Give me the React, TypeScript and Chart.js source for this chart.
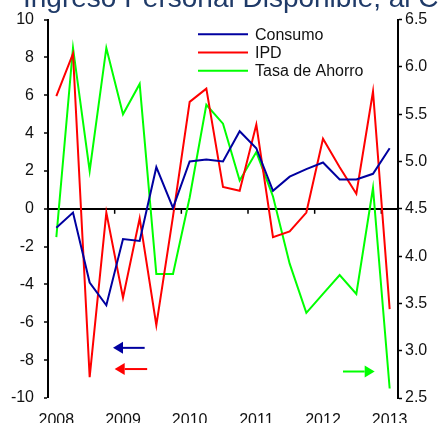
import React, { useEffect, useRef } from "react";
import { Chart, registerables } from "chart.js";

Chart.register(...registerables);

const titleText = "Ingreso Personal Disponible, al Consumo y Tasa de Ahorro";

const categories = [
  "2008T1", "2008T2", "2008T3", "2008T4",
  "2009T1", "2009T2", "2009T3", "2009T4",
  "2010T1", "2010T2", "2010T3", "2010T4",
  "2011T1", "2011T2", "2011T3", "2011T4",
  "2012T1", "2012T2", "2012T3", "2012T4",
  "2013T1",
];

const consumo = [-1.0, -0.2, -3.9, -5.1, -1.6, -1.7, 2.2, 0.05, 2.5, 2.6, 2.5, 4.1, 3.2, 0.95, 1.7, 2.1, 2.45, 1.55, 1.55, 1.85, 3.2];
const ipd = [5.95, 8.2, -8.9, -0.2, -4.7, -0.5, -6.15, -0.4, 5.65, 6.35, 1.15, 0.95, 4.45, -1.5, -1.2, -0.2, 3.7, 2.2, 0.8, 6.2, -5.3];
const ahorro = [4.2, 6.2, 4.9, 6.2, 5.5, 5.82, 3.81, 3.81, 4.62, 5.6, 5.4, 4.8, 5.1, 4.63, 3.92, 3.4, 3.6, 3.8, 3.6, 4.72, 2.6];

const seriesLabels = ["Consumo", "IPD", "Tasa de Ahorro"];
const seriesColors = ["#0000A0", "#FF0000", "#00FF00"];

// arrows indicating which axis each series belongs to (category index range, axis value)
const axisArrows = [
  { color: "#0000A0", axis: "y", tip: 3.4, tail: 5.3, value: -7.35 },
  { color: "#FF0000", axis: "y", tip: 3.5, tail: 5.45, value: -8.47 },
  { color: "#00FF00", axis: "y1", tip: 19.1, tail: 17.2, value: 2.78 },
];

const FONT = "'Liberation Sans', Arial, sans-serif";

const decorPlugin = {
  id: "decor",
  beforeDatasetsDraw(chart: any) {
    const ctx = chart.ctx;
    const x = chart.scales.x;
    const y = chart.scales.y;
    const y0 = y.getPixelForValue(0);
    ctx.save();
    ctx.strokeStyle = "#000";
    ctx.lineWidth = 1.5;
    categories.forEach((c, i) => {
      if (i > 0 && c.endsWith("T1")) {
        const px = (x.getPixelForValue(i - 1) + x.getPixelForValue(i)) / 2;
        ctx.beginPath();
        ctx.moveTo(px, y0);
        ctx.lineTo(px, y0 + 5);
        ctx.stroke();
      }
    });
    ctx.restore();
  },
  afterDraw(chart: any) {
    const ctx = chart.ctx;
    ctx.save();
    // title (partially cut off at top)
    ctx.fillStyle = "#1F3A68";
    ctx.font = `28px ${FONT}`;
    ctx.textBaseline = "alphabetic";
    ctx.textAlign = "left";
    ctx.fillText(titleText, 23, 7);

    // legend
    chart.data.datasets.forEach((ds: any, i: number) => {
      const ly = 34.3 + 18.2 * i;
      ctx.strokeStyle = ds.borderColor;
      ctx.lineWidth = 2;
      ctx.beginPath();
      ctx.moveTo(198, ly);
      ctx.lineTo(248, ly);
      ctx.stroke();
      ctx.fillStyle = "#111";
      ctx.font = `16px ${FONT}`;
      ctx.textBaseline = "middle";
      ctx.fillText(ds.label, 255, ly + 1);
    });

    // arrows
    const x = chart.scales.x;
    axisArrows.forEach((a) => {
      const sc = chart.scales[a.axis];
      const py = sc.getPixelForValue(a.value);
      const tipX = x.getPixelForValue(a.tip);
      const tailX = x.getPixelForValue(a.tail);
      const dir = tailX > tipX ? 1 : -1;
      const baseX = tipX + dir * 10;
      ctx.strokeStyle = a.color;
      ctx.fillStyle = a.color;
      ctx.lineWidth = 2;
      ctx.beginPath();
      ctx.moveTo(baseX, py);
      ctx.lineTo(tailX, py);
      ctx.stroke();
      ctx.beginPath();
      ctx.moveTo(tipX, py);
      ctx.lineTo(baseX, py - 6);
      ctx.lineTo(baseX, py + 6);
      ctx.closePath();
      ctx.fill();
    });
    ctx.restore();
  },
};

export default function App() {
  const ref = useRef<HTMLCanvasElement>(null);
  useEffect(() => {
    if (!ref.current) return;
    Chart.defaults.font.family = FONT;
    const chart = new Chart(ref.current, {
      type: "line",
      data: {
        labels: categories,
        datasets: [
          { label: seriesLabels[0], data: consumo, borderColor: seriesColors[0], backgroundColor: seriesColors[0], yAxisID: "y" },
          { label: seriesLabels[1], data: ipd, borderColor: seriesColors[1], backgroundColor: seriesColors[1], yAxisID: "y" },
          { label: seriesLabels[2], data: ahorro, borderColor: seriesColors[2], backgroundColor: seriesColors[2], yAxisID: "y1" },
        ],
      },
      options: {
        responsive: false,
        animation: false,
        layout: { padding: { top: 19.5, left: 0, right: 0, bottom: 0 } },
        elements: {
          line: { borderWidth: 2, tension: 0 },
          point: { radius: 0, hoverRadius: 0 },
        },
        plugins: {
          legend: { display: false },
          title: { display: false },
          tooltip: { enabled: false },
        },
        scales: {
          x: {
            type: "category",
            offset: true,
            grid: { display: false },
            border: { display: false },
            ticks: {
              autoSkip: false,
              maxRotation: 0,
              padding: 5,
              color: "#111",
              font: { size: 16 },
              callback: (_v: any, i: number) => (categories[i].endsWith("T1") ? categories[i].slice(0, 4) : ""),
            },
            afterFit: (s: any) => { s.height = 42; },
          },
          y: {
            position: "left",
            min: -10,
            max: 10,
            ticks: { stepSize: 2, padding: 10, color: "#111", font: { size: 16 } },
            grid: {
              drawOnChartArea: true,
              color: (c: any) => (c.tick && c.tick.value === 0 ? "#000" : "rgba(0,0,0,0)"),
              lineWidth: (c: any) => (c.tick && c.tick.value === 0 ? 2 : 0),
              tickColor: "#000",
              tickLength: 4,
              tickWidth: 1.5,
            },
            border: { display: true, color: "#000", width: 2 },
            afterFit: (s: any) => { s.width = 48; },
          },
          y1: {
            position: "right",
            min: 2.5,
            max: 6.5,
            ticks: { stepSize: 0.5, padding: 3, color: "#111", font: { size: 16 }, callback: (v: any) => Number(v).toFixed(1) },
            grid: { drawOnChartArea: false, tickColor: "#000", tickLength: 4, tickWidth: 1.5 },
            border: { display: true, color: "#000", width: 2 },
            afterFit: (s: any) => { s.width = 40; },
          },
        },
      },
      plugins: [decorPlugin],
    });
    return () => chart.destroy();
  }, []);
  return (
    <div style={{ position: "absolute", left: 0, top: 0, width: 438, height: 423, overflow: "hidden", background: "#fff" }}>
      <canvas ref={ref} width={438} height={440} style={{ width: 438, height: 440, display: "block" }} />
    </div>
  );
}
